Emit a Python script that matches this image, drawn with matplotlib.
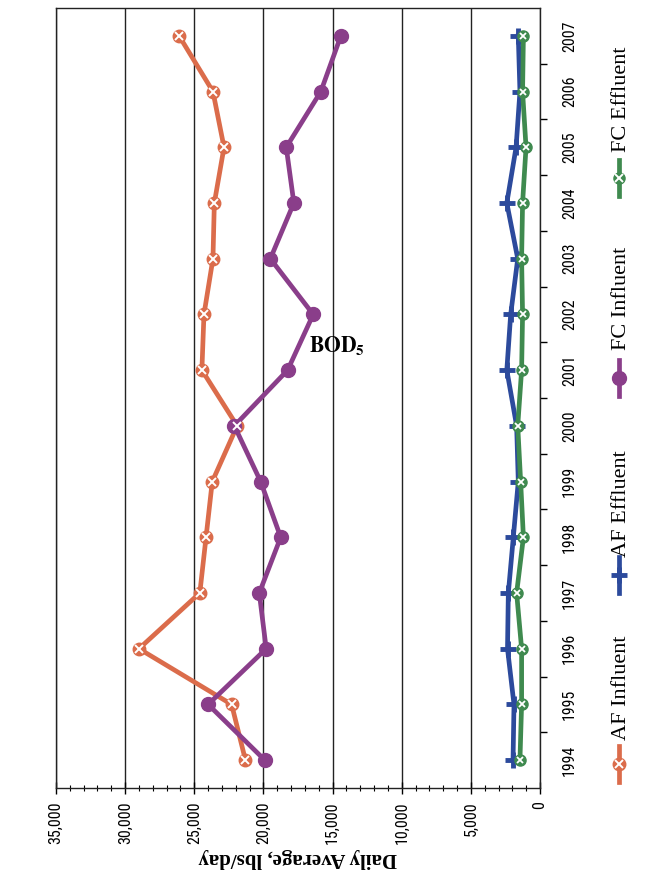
import matplotlib
matplotlib.use("Agg")
import matplotlib.pyplot as plt
from matplotlib import font_manager
from matplotlib.lines import Line2D
from matplotlib.ticker import MultipleLocator, FuncFormatter

# data (lbs/day)
years = [1994, 1995, 1996, 1997, 1998, 1999, 2000, 2001, 2002, 2003, 2004, 2005, 2006, 2007]
af_influent = [21300, 22300, 29000, 24600, 24150, 23700, 21900, 24450, 24300, 23650, 23550, 22850, 23650, 26100]
af_effluent = [1950, 1880, 2350, 2290, 1930, 1570, 1690, 2400, 2120, 1610, 2400, 1730, 1450, 1570]
fc_influent = [19900, 24000, 19800, 20300, 18750, 20200, 22100, 18250, 16400, 19500, 17800, 18350, 15850, 14400]
fc_effluent = [1450, 1330, 1330, 1690, 1200, 1400, 1610, 1330, 1260, 1330, 1260, 1010, 1260, 1200]

series_names = ["AF Influent", "AF Effluent", "FC Influent", "FC Effluent"]

ORANGE = "#DB6C4B"
BLUE = "#2C4A9C"
PURPLE = "#8A3E8A"
GREEN = "#3F8A4F"

W, H = 645, 880


def fx(x):
    return x / W


def fy(y):
    return 1 - y / H


# pick a narrow sans if one is around
have = {f.name for f in font_manager.fontManager.ttflist}
narrow_name = "DejaVu Sans"
narrow_stretch = "normal"
for cand in ["Liberation Sans Narrow", "Arial Narrow", "Roboto Condensed", "Open Sans Condensed"]:
    if cand in have:
        narrow_name = cand
        break
else:
    for f in font_manager.fontManager.ttflist:
        if f.name == "DejaVu Sans" and "ondensed" in f.fname:
            narrow_stretch = "condensed"
            break
narrow = [narrow_name, "DejaVu Sans"]
serif = ["Liberation Serif", "DejaVu Serif"]
plt.rcParams["mathtext.fontset"] = "stix"

fig = plt.figure(figsize=(W / 100, H / 100), dpi=100)
ax = fig.add_axes([fx(56), fy(788), fx(540) - fx(56), fy(8) - fy(788)])

ax.set_xlim(35000, 0)
ax.set_ylim(years[0] - 0.5, years[-1] + 0.5)

# lines
ax.plot(af_influent, years, color=ORANGE, lw=3.4, marker="o", ms=9, mfc=ORANGE, mec=ORANGE, zorder=3)
ax.plot(af_influent, years, ls="none", marker="x", ms=5.5, mew=1.4, color="white", zorder=4)
ax.plot(af_effluent, years, color=BLUE, lw=3.4, marker="+", ms=11, mew=3.5, zorder=3)
ax.plot(fc_influent, years, color=PURPLE, lw=3.4, marker="o", ms=10, mfc=PURPLE, mec=PURPLE, zorder=3)
ax.plot(fc_effluent, years, color=GREEN, lw=3.4, marker="o", ms=8, mfc=GREEN, mec=GREEN, zorder=3)
ax.plot(fc_effluent, years, ls="none", marker="x", ms=5, mew=1.3, color="white", zorder=4)

# value axis (bottom, reversed)
ax.xaxis.set_major_locator(MultipleLocator(5000))
ax.xaxis.set_minor_locator(MultipleLocator(1000))
ax.xaxis.set_major_formatter(FuncFormatter(lambda v, p: "{:,.0f}".format(v)))
for lab in ax.get_xticklabels():
    lab.set_rotation(90)
    lab.set_fontfamily(narrow)
    lab.set_fontstretch(narrow_stretch)
    lab.set_fontsize(11.5)
ax.tick_params(axis="x", which="major", direction="inout", length=9, width=1, pad=5)
ax.tick_params(axis="x", which="minor", direction="inout", length=5, width=0.8)
ax.grid(axis="x", which="major", color="#222222", lw=1.0)
ax.set_xlabel("Daily Average, lbs/day", rotation=180, family=serif, weight="bold",
              fontsize=15, labelpad=3)

# year axis (right side)
ax.yaxis.tick_right()
ax.set_yticks(years)
ax.set_yticklabels([str(y) for y in years], rotation=90, va="center", family=narrow,
                   fontstretch=narrow_stretch, fontsize=11.5)
ax.set_yticks([y + 0.5 for y in years[:-1]], minor=True)
ax.tick_params(axis="y", which="major", length=0, pad=16)
ax.tick_params(axis="y", which="minor", direction="out", length=5, width=1)

for s in ax.spines.values():
    s.set_color("#222222")
    s.set_linewidth(1.0)

# title
fig.text(fx(337), fy(346), r"$\mathbf{BOD_5}$", ha="center", va="center", fontsize=15.5)

# legend, drawn sideways like the scan
leg_x = 619
leg_items = [
    (series_names[0], ORANGE, 764, 740, dict(marker="o", ms=9, mfc=ORANGE, mec=ORANGE)),
    (series_names[1], BLUE, 575, 557, dict(marker="+", ms=11, mew=3.5)),
    (series_names[2], PURPLE, 378, 350, dict(marker="o", ms=10, mfc=PURPLE, mec=PURPLE)),
    (series_names[3], GREEN, 178, 152, dict(marker="o", ms=8, mfc=GREEN, mec=GREEN)),
]
for name, col, my, ty, mk in leg_items:
    fig.add_artist(Line2D([fx(leg_x)] * 3, [fy(my + 18), fy(my), fy(my - 18)],
                          transform=fig.transFigure, color=col, lw=3.4, markevery=[1], **mk))
    if col in (ORANGE, GREEN):
        fig.add_artist(Line2D([fx(leg_x)], [fy(my)], transform=fig.transFigure, ls="none",
                              marker="x", ms=5.5, mew=1.4, color="white"))
    fig.text(fx(leg_x + 2), fy(ty), name, rotation=90, ha="center", va="bottom",
             family=serif, fontsize=16)

fig.savefig("out.png", dpi=100)
